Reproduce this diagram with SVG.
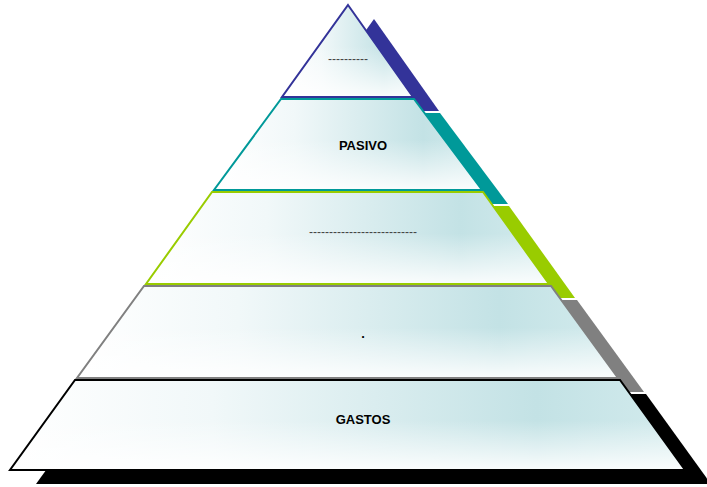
<svg xmlns="http://www.w3.org/2000/svg" width="707" height="487" viewBox="0 0 707 487">
<defs>
<linearGradient id="gh" x1="0" y1="0" x2="1" y2="0">
<stop offset="0" stop-color="#ffffff"/>
<stop offset="0.3" stop-color="#f1f8f9"/>
<stop offset="0.78" stop-color="#c3e2e5"/>
<stop offset="1" stop-color="#d3ebed"/>
</linearGradient>
<linearGradient id="gv" x1="0" y1="0" x2="0" y2="1">
<stop offset="0" stop-color="#ffffff" stop-opacity="0"/>
<stop offset="0.45" stop-color="#ffffff" stop-opacity="0"/>
<stop offset="1" stop-color="#ffffff" stop-opacity="0.9"/>
</linearGradient>
</defs>
<style>
.face{fill:url(#gh)}
.glow{fill:url(#gv);stroke:none}
.edge{fill:none;stroke-width:2;stroke-linejoin:miter}
.lbl{font-family:"Liberation Sans",Arial,sans-serif;font-weight:bold;font-size:13px;fill:#000;text-anchor:middle}
.dash{font-family:"Liberation Sans",Arial,sans-serif;font-size:12px;fill:#444;text-anchor:middle}
</style>
<g id="shadows" transform="translate(26,14)">
<polygon points="348,5 413,97 282,97" fill="#333399"/>
<polygon points="281,99 414,99 482,190 214,190" fill="#009999"/>
<polygon points="212,192 483,192 549,284 146,284" fill="#99cc00"/>
<polygon points="144,286 551,286 618,378 77,378" fill="#808080"/>
<polygon points="75,380 620,380 685,470 10,470" fill="#000000"/>
</g>
<g id="level1">
<polygon class="face" points="348,5 413,97 282,97"/>
<polygon class="glow" points="348,5 413,97 282,97"/>
<polygon class="edge" stroke="#333399" points="348,5 413,97 282,97"/>
<text class="dash" x="348" y="63">----------</text>
</g>
<g id="level2">
<polygon class="face" points="281,99 414,99 482,190 214,190"/>
<polygon class="glow" points="281,99 414,99 482,190 214,190"/>
<polygon class="edge" stroke="#009999" points="281,99 414,99 482,190 214,190"/>
<text class="lbl" x="363" y="150">PASIVO</text>
</g>
<g id="level3">
<polygon class="face" points="212,192 483,192 549,284 146,284"/>
<polygon class="glow" points="212,192 483,192 549,284 146,284"/>
<polygon class="edge" stroke="#99cc00" points="212,192 483,192 549,284 146,284"/>
<text class="dash" x="363" y="236">---------------------------</text>
</g>
<g id="level4">
<polygon class="face" points="144,286 551,286 618,378 77,378"/>
<polygon class="glow" points="144,286 551,286 618,378 77,378"/>
<polygon class="edge" stroke="#808080" points="144,286 551,286 618,378 77,378"/>
<text class="lbl" x="363" y="338">.</text>
</g>
<g id="level5">
<polygon class="face" points="75,380 620,380 685,470 10,470"/>
<polygon class="glow" points="75,380 620,380 685,470 10,470"/>
<polygon class="edge" stroke="#000000" points="75,380 620,380 685,470 10,470"/>
<text class="lbl" x="363" y="424">GASTOS</text>
</g>
</svg>
